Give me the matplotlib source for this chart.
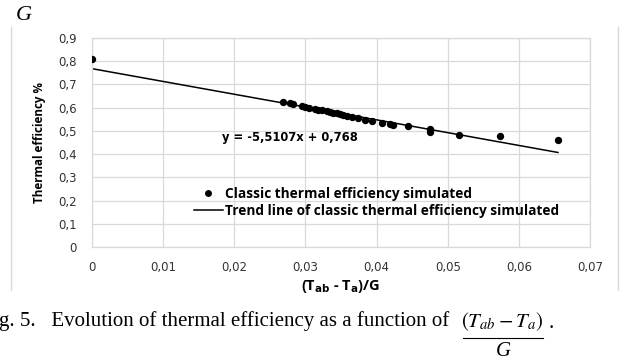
import numpy as np
import matplotlib.pyplot as plt
from matplotlib.lines import Line2D

# simulated points
x_vals = [0.0, 0.0268, 0.0278, 0.0283, 0.0295, 0.0300, 0.0305, 0.0313, 0.0318,
          0.0323, 0.0330, 0.0335, 0.0339, 0.0344, 0.0349, 0.0353, 0.0358, 0.0365,
          0.0374, 0.0384, 0.0393, 0.0407, 0.0419, 0.0423, 0.0444, 0.0475, 0.0475,
          0.0516, 0.0574, 0.0655]
eff_vals = [0.81, 0.625, 0.620, 0.617, 0.607, 0.604, 0.600, 0.595, 0.592,
            0.588, 0.585, 0.581, 0.578, 0.575, 0.573, 0.570, 0.563, 0.560,
            0.555, 0.548, 0.541, 0.536, 0.530, 0.524, 0.522, 0.510, 0.496,
            0.483, 0.478, 0.461]
trend = [-5.5107, 0.768]   # slope, intercept shown on the chart

x_ticks = [0, 0.01, 0.02, 0.03, 0.04, 0.05, 0.06, 0.07]
y_ticks = [0, 0.1, 0.2, 0.3, 0.4, 0.5, 0.6, 0.7, 0.8, 0.9]

W, H = 626, 362
fig = plt.figure(figsize=(W / 100, H / 100), dpi=100)


def fx(px):
    return px / W


def fy(py):
    return 1 - py / H


ax = fig.add_axes([fx(92), fy(247), fx(590) - fx(92), fy(38) - fy(247)])

ax.scatter(x_vals, eff_vals, s=28, color='black', zorder=3, linewidths=0)
xt = np.array([min(x_vals), max(x_vals)])
ax.plot(xt, np.polyval(trend, xt), color='black', lw=1.1, zorder=2)

ax.set_xlim(0, 0.07)
ax.set_ylim(0, 0.9)
ax.set_xticks(x_ticks)
ax.set_yticks(y_ticks)
ax.set_xticklabels([('%g' % v).replace('.', ',') for v in x_ticks],
                   fontsize=8.5, family='DejaVu Sans', color='#333333')
ax.set_yticklabels([('%g' % v).replace('.', ',') for v in y_ticks],
                   fontsize=8.5, family='DejaVu Sans', color='#333333')
ax.tick_params(axis='y', length=0, pad=11)
ax.tick_params(axis='x', length=0, pad=10)
ax.grid(True, color='#d9d9d9', lw=0.9)
ax.set_axisbelow(True)
for s in ax.spines.values():
    s.set_color('#d9d9d9')
    s.set_linewidth(0.9)

ax.text(0.01826, 0.473, 'y = -5,5107x + 0,768', fontsize=8.3, family='DejaVu Sans',
        fontweight='bold', va='center')

ax.set_ylabel('Thermal efficiency %', fontsize=8.4, family='Open Sans',
              fontweight='bold', labelpad=9)
ax.set_xlabel(r'(T$_{\mathbf{ab}}$ - T$_{\mathbf{a}}$)/G', fontsize=10.5,
              family='Open Sans', fontweight='bold', labelpad=3)

handles = [Line2D([], [], marker='o', ls='none', color='black', markersize=5,
                  markeredgewidth=0),
           Line2D([], [], color='black', lw=1.1)]
ax.legend(handles, ['Classic thermal efficiency simulated',
                    'Trend line of classic thermal efficiency simulated'],
          loc='lower left', bbox_to_anchor=(fx(205) - fx(92), 0.08),
          bbox_transform=ax.transAxes, frameon=False, handlelength=2.1,
          handletextpad=0.15, labelspacing=0.25,
          prop={'family': 'Open Sans', 'weight': 'bold', 'size': 9.8})

# chart frame edges
fig.add_artist(Line2D([fx(11), fx(11)], [fy(27), fy(290)], color='#d9d9d9', lw=1))
fig.add_artist(Line2D([fx(618), fx(618)], [fy(27), fy(290)], color='#d9d9d9', lw=1))

# page text around the chart
fig.text(fx(16), fy(16), 'G', family='Liberation Serif', style='italic',
         fontsize=16, va='center')
fig.text(fx(-1), fy(321), 'g. 5.   Evolution of thermal efficiency as a function of',
         family='Liberation Serif', fontsize=15, va='center')
fig.text(fx(502), fy(322), r'$\left(T_{ab}-T_a\right)$', fontsize=15, ha='center',
         va='center', math_fontfamily='stix')
fig.add_artist(Line2D([fx(463), fx(543)], [fy(338), fy(338)], color='black', lw=0.8))
fig.text(fx(503), fy(352), 'G', family='Liberation Serif', style='italic',
         fontsize=15, ha='center', va='center')
fig.text(fx(549), fy(324), '.', family='Liberation Serif', fontsize=15, va='center')

fig.savefig('out.png', dpi=100)
